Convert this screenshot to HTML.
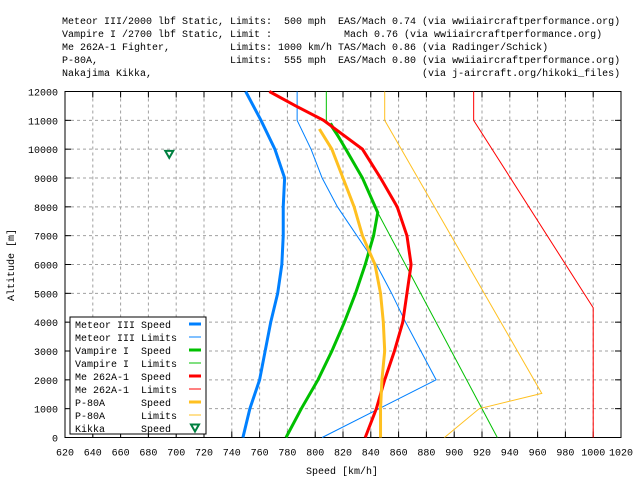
<!DOCTYPE html>
<html><head><meta charset="utf-8">
<style>
body{margin:0;background:#fff;}
svg{display:block;font-family:"Liberation Mono","DejaVu Sans Mono",monospace;font-size:10px;}
text{white-space:pre;}
</style></head>
<body>
<svg id="chart" width="640" height="480" viewBox="0 0 640 480" xmlns="http://www.w3.org/2000/svg">
<g fill="#000">
<text x="62" y="24">Meteor III/2000 lbf Static, Limits:  500 mph  EAS/Mach 0.74 (via wwiiaircraftperformance.org)</text>
<text x="62" y="37">Vampire I /2700 lbf Static, Limit :            Mach 0.76 (via wwiiaircraftperformance.org)</text>
<text x="62" y="50">Me 262A-1 Fighter,          Limits: 1000 km/h TAS/Mach 0.86 (via Radinger/Schick)</text>
<text x="62" y="63">P-80A,                      Limits:  555 mph  EAS/Mach 0.80 (via wwiiaircraftperformance.org)</text>
<text x="62" y="76">Nakajima Kikka,                                             (via j-aircraft.org/hikoki_files)</text>
</g>
<g id="grid"></g>
<g id="axes"></g>
<g id="series"></g>
<g id="legend"></g>
<text x="342" y="474" text-anchor="middle">Speed [km/h]</text>
<text transform="translate(14,265) rotate(-90)" text-anchor="middle">Altitude [m]</text>
</svg>
<script>
const xTicks=[620,640,660,680,700,720,740,760,780,800,820,840,860,880,900,920,940,960,980,1000,1020];
const yTicks=[0,1000,2000,3000,4000,5000,6000,7000,8000,9000,10000,11000,12000];
const meteorSpeedAlt=[0,1000,2000,3000,4000,5000,6000,7000,8000,9000,10000,11000,12000];
const meteorSpeed=[748,753,760,764,768,773,776,777,777,778,771,761,750];
const meteorLimAlt=[0,2000,3000,4000,5000,6000,7000,8000,9000,10000,11000,12000];
const meteorLim=[805,887,876,865,855,844,830,816,805,797,787,787];
const vampSpeedAlt=[0,1000,2000,3000,4000,5000,6000,7000,7800,9000,10000,10900];
const vampSpeed=[779,790,802,812,821,829,836,842,845,834,822,811];
const vampLimAlt=[0,7800,9000,10000,11000,12000];
const vampLim=[931,845,834,822,808,808];
const meSpeedAlt=[0,1000,2000,3000,4000,5000,6000,7000,8000,9000,10000,11000,11500,12000];
const meSpeed=[836,844,850,857,863,866,869,866,859,847,834,806,786,767];
const meLimAlt=[0,4500,11000,12000];
const meLim=[1000,1000,914,914];
const p80SpeedAlt=[0,1000,2000,3000,4000,5000,6000,7000,8000,9000,10000,10700];
const p80Speed=[847,847,848,850,849,847,843,834,828,820,812,803];
const p80LimAlt=[0,1000,1530,11000,12000];
const p80Lim=[893,918,963,850,850];
const kikkaAlt=[9820];
const kikkaSpeed=[695];

const X0=65,X1=621,Y0=437.5,Y1=91.5;
const sx=v=>X0+(v-620)*(X1-X0)/400;
const sy=v=>Y0-(v)*(Y0-Y1)/12000;
const NS="http://www.w3.org/2000/svg";
function mk(tag,parent,attrs){const e=document.createElementNS(NS,tag);for(const k in attrs)e.setAttribute(k,attrs[k]);parent.appendChild(e);return e;}
const grid=document.getElementById('grid'),axes=document.getElementById('axes'),series=document.getElementById('series'),legend=document.getElementById('legend');
xTicks.forEach(v=>{
  const x=sx(v);
  if(v>620&&v<1020){const l=mk('line',grid,{x1:x,x2:x,y1:Y0,y2:Y1,stroke:'#a0a0a0','stroke-dasharray':'3,3','stroke-width':1});
  }
  mk('line',axes,{x1:x,x2:x,y1:Y0,y2:Y0-6,stroke:'#000'});
  mk('line',axes,{x1:x,x2:x,y1:Y1,y2:Y1+6,stroke:'#000'});
  const t=mk('text',axes,{x:x,y:Y0+18,'text-anchor':'middle'});t.textContent=v;
  
});
yTicks.forEach(v=>{
  const y=sy(v);
  if(v>0&&v<12000){const l=mk('line',grid,{x1:X0,x2:X1,y1:y,y2:y,stroke:'#a0a0a0','stroke-dasharray':'3,3','stroke-width':1});
  }
  mk('line',axes,{x1:X0,x2:X0+6,y1:y,y2:y,stroke:'#000'});
  mk('line',axes,{x1:X1,x2:X1-6,y1:y,y2:y,stroke:'#000'});
  const t=mk('text',axes,{x:X0-7,y:y+4,'text-anchor':'end'});t.textContent=v;
  
});
mk('rect',axes,{x:X0,y:Y1,width:X1-X0,height:Y0-Y1,fill:'none',stroke:'#000'});
function line(xs,ys,color,w,name){
  const p=mk('polyline',series,{points:xs.map((v,i)=>sx(v)+','+sy(ys[i])).join(' '),fill:'none',stroke:color,'stroke-width':w,'stroke-linejoin':'miter'});
  
}
line(meteorLim,meteorLimAlt,'#0080ff',1,'meteor-limits-line');
line(vampLim,vampLimAlt,'#00c000',1,'vampire-limits-line');
line(meLim,meLimAlt,'#ff0000',1,'me262-limits-line');
line(p80Lim,p80LimAlt,'#ffc020',1,'p80-limits-line');
line(meteorSpeed,meteorSpeedAlt,'#0080ff',3,'meteor-speed-line');
line(vampSpeed,vampSpeedAlt,'#00c000',3,'vampire-speed-line');
line(meSpeed,meSpeedAlt,'#ff0000',3,'me262-speed-line');
line(p80Speed,p80SpeedAlt,'#ffc020',3,'p80-speed-line');
function tri(g,x,y){return mk('path',g,{d:`M${x-4},${y-3.5} L${x+4},${y-3.5} L${x},${y+3.5} Z`,fill:'none',stroke:'#008040','stroke-width':2});}
kikkaSpeed.forEach((v,i)=>{const t=tri(series,sx(v),sy(kikkaAlt[i]));
  });
const lb=mk('rect',legend,{x:70,y:317,width:136,height:117,fill:'#fff',stroke:'#000'});

const entries=[['Meteor III Speed','#0080ff',3],['Meteor III Limits','#0080ff',1],['Vampire I  Speed','#00c000',3],['Vampire I  Limits','#00c000',1],['Me 262A-1  Speed','#ff0000',3],['Me 262A-1  Limits','#ff0000',1],['P-80A      Speed','#ffc020',3],['P-80A      Limits','#ffc020',1],['Kikka      Speed','#008040',0]];
entries.forEach((e,i)=>{
  const y=324+i*13;
  const g=mk('g',legend,{});
  
  const t=mk('text',g,{x:75,y:y+4});t.textContent=e[0];
  if(e[2]>0)mk('line',g,{x1:189,x2:201,y1:y,y2:y,stroke:e[1],'stroke-width':e[2]});
  else tri(g,195,y);
});
</script>
</body></html>
